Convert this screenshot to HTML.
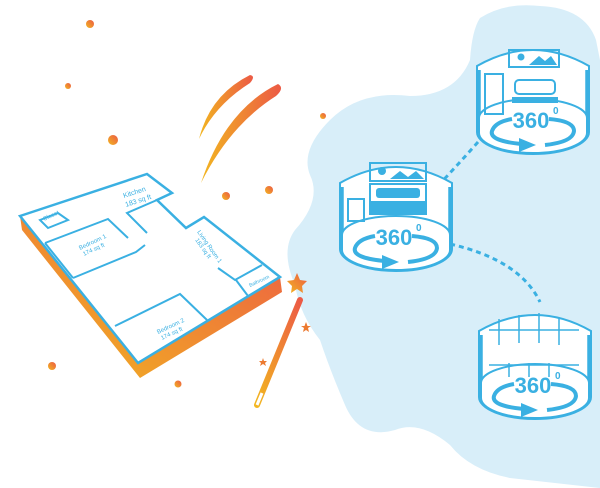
<!DOCTYPE html>
<html><head><meta charset="utf-8"><style>html,body{margin:0;padding:0;background:#fff}svg{display:block}</style></head>
<body>
<svg width="600" height="488" viewBox="0 0 600 488" xmlns="http://www.w3.org/2000/svg" font-family="Liberation Sans, sans-serif">
<defs>
<linearGradient id="og" x1="0" y1="1" x2="1" y2="0"><stop offset="0" stop-color="#f2b620"/><stop offset="1" stop-color="#ec5a45"/></linearGradient>
<linearGradient id="sg" x1="0" y1="0" x2="1" y2="0"><stop offset="0" stop-color="#f2b620"/><stop offset="1" stop-color="#ec5a45"/></linearGradient>
<g id="cyl">
<path d="M0,26 Q56,-6 112,26 L112,92 A56,22 0 0 1 0,92 Z" fill="#fff" stroke="#3ab0e2" stroke-width="2"/>
<path d="M2,30 L2,92 M110,30 L110,92" stroke="#3ab0e2" stroke-width="3.5"/>
<ellipse cx="56" cy="78" rx="54" ry="19" fill="#fff" stroke="#3ab0e2" stroke-width="2"/>
<path d="M2,78 L2,93 A54,20 0 0 0 110,93 L110,78" fill="#fff" stroke="#3ab0e2" stroke-width="2"/>
<text x="54" y="88" text-anchor="middle" font-size="22" font-weight="bold" fill="#3ab0e2">360</text>
<text x="76" y="74" font-size="10" font-weight="bold" fill="#3ab0e2">0</text>
<path d="M45,104 Q12,101 15,91 Q18,82 35,79" fill="none" stroke="#3ab0e2" stroke-width="4"/>
<path d="M72,79 Q97,81 97,91 Q96,102 68,105" fill="none" stroke="#3ab0e2" stroke-width="4"/>
<path d="M42,98 L59,105 L42,112 Z" fill="#3ab0e2"/>
</g>
</defs>
<path d="M480,18 Q505,2 540,6 Q585,8 596,40 L600,60 L600,488 L510,478 Q470,470 450,445 Q420,420 395,430 Q360,440 345,405 Q330,370 320,340 Q300,315 295,285 Q280,250 295,230 Q322,200 310,175 Q300,150 330,120 Q360,90 410,96 Q455,96 470,60 Q472,30 480,18 Z" fill="#d8eef9"/>
<path d="M432,192 Q455,168 478,142" fill="none" stroke="#3ab0e2" stroke-width="3" stroke-dasharray="5,4"/>
<path d="M450,244 Q520,260 540,302" fill="none" stroke="#3ab0e2" stroke-width="3" stroke-dasharray="5,4"/>
<g transform="translate(477,40)"><use href="#cyl"/>
<rect x="32" y="10" width="50" height="17" fill="none" stroke="#3ab0e2" stroke-width="2"/><circle cx="44" cy="17" r="3.5" fill="#3ab0e2"/><path d="M52,25 L62,16 L68,21 L74,16 L80,25Z" fill="#3ab0e2"/>
<rect x="38" y="40" width="40" height="14" rx="4" fill="none" stroke="#3ab0e2" stroke-width="2"/><rect x="35" y="57" width="46" height="6" fill="#3ab0e2"/>
<rect x="8" y="34" width="18" height="40" fill="none" stroke="#3ab0e2" stroke-width="2"/></g>
<g transform="translate(340,157)"><use href="#cyl"/>
<rect x="30" y="6" width="56" height="18" fill="none" stroke="#3ab0e2" stroke-width="2"/><circle cx="42" cy="14" r="4" fill="#3ab0e2"/><path d="M50,22 L60,14 L68,20 L76,14 L84,22Z" fill="#3ab0e2"/>
<rect x="30" y="27" width="56" height="30" fill="none" stroke="#3ab0e2" stroke-width="2"/><rect x="36" y="31" width="44" height="10" rx="3" fill="#3ab0e2"/><rect x="30" y="44" width="56" height="13" fill="#3ab0e2"/>
<rect x="8" y="42" width="16" height="22" fill="none" stroke="#3ab0e2" stroke-width="2"/></g>
<g transform="translate(479,305)"><use href="#cyl"/>
<path d="M10,25 L100,25 M20,14 L20,40 M40,10 L40,38 M60,8 L60,38 M80,12 L80,40" stroke="#3ab0e2" stroke-width="1.5" fill="none"/>
<path d="M10,60 L100,60 M30,58 L30,72 M50,58 L50,72 M70,58 L70,72" stroke="#3ab0e2" stroke-width="1.5" fill="none"/></g>
<path d="M20,216 L138,363 L280,277 L282,292 L140,378 L22,230 Z" fill="url(#og)"/>
<path d="M20,216 L147,174 L172,193 L157,200 L186,228 L204,217 L280,277 L138,363 Z" fill="#fff" stroke="#3ab0e2" stroke-width="2.5"/>
<g stroke="#3ab0e2" stroke-width="2" fill="none">
<path d="M40,220 L58,213 L68,220 L48,228 Z"/>
<path d="M45,243 L108,219 L128,238"/>
<path d="M73,278 L136,252 L145,245"/>
<path d="M45,243 L73,278"/>
<path d="M157,200 L127,213 L147,233"/>
<path d="M115,326 L180,294 L207,320"/>
<path d="M218,268 L235,280 L262,265 M236,280 L248,296"/>
</g>
<g fill="#3ab0e2" font-size="6">
<text x="124" y="198" font-size="7" transform="rotate(-18 124 198)">Kitchen</text>
<text x="126" y="207" font-size="7" transform="rotate(-18 126 207)">183 sq ft</text>
<text x="44" y="221" transform="rotate(-25 44 221)">Closet</text>
<text x="80" y="250" transform="rotate(-25 80 250)">Bedroom 1</text>
<text x="84" y="256" transform="rotate(-25 84 256)">174 sq ft</text>
<text x="197" y="232" transform="rotate(55 197 232)">Living Room 1</text>
<text x="195" y="240" transform="rotate(55 195 240)">183 sq ft</text>
<text x="158" y="334" transform="rotate(-25 158 334)">Bedroom 2</text>
<text x="162" y="340" transform="rotate(-25 162 340)">174 sq ft</text>
<text x="250" y="287" font-size="5" transform="rotate(-25 250 287)">Bathroom</text>
</g>
<path d="M199,139 Q210,95 250,75 Q256,76 250,83 Q215,105 199,139 Z" fill="url(#sg)"/>
<path d="M201,183 Q225,110 278,84 Q285,88 276,96 Q230,125 201,183 Z" fill="url(#sg)"/>
<path d="M257,405 L300,300" stroke="url(#og)" stroke-width="6" stroke-linecap="round"/>
<path d="M257,405 L262,393" stroke="#fff" stroke-width="3"/>
<polygon points="297,273 300,280 307,281 302,286 303,293 297,289 291,293 292,286 287,281 294,280" fill="url(#og)"/>
<polygon points="306,322 307.5,326 311,326 308,328 309,332 306,330 303,332 304,328 301,326 304.5,326" fill="#ec7a30"/>
<polygon points="263,358 264,361 267,361 265,363 266,366 263,364 260,366 261,363 259,361 262,361" fill="#ec7a30"/>
<g fill="url(#og)">
<circle cx="90" cy="24" r="4"/><circle cx="68" cy="86" r="3"/><circle cx="113" cy="140" r="5"/><circle cx="323" cy="116" r="3"/><circle cx="226" cy="196" r="4"/><circle cx="269" cy="190" r="4"/><circle cx="52" cy="366" r="4"/><circle cx="178" cy="384" r="3.5"/>
</g>
</svg>
</body></html>
